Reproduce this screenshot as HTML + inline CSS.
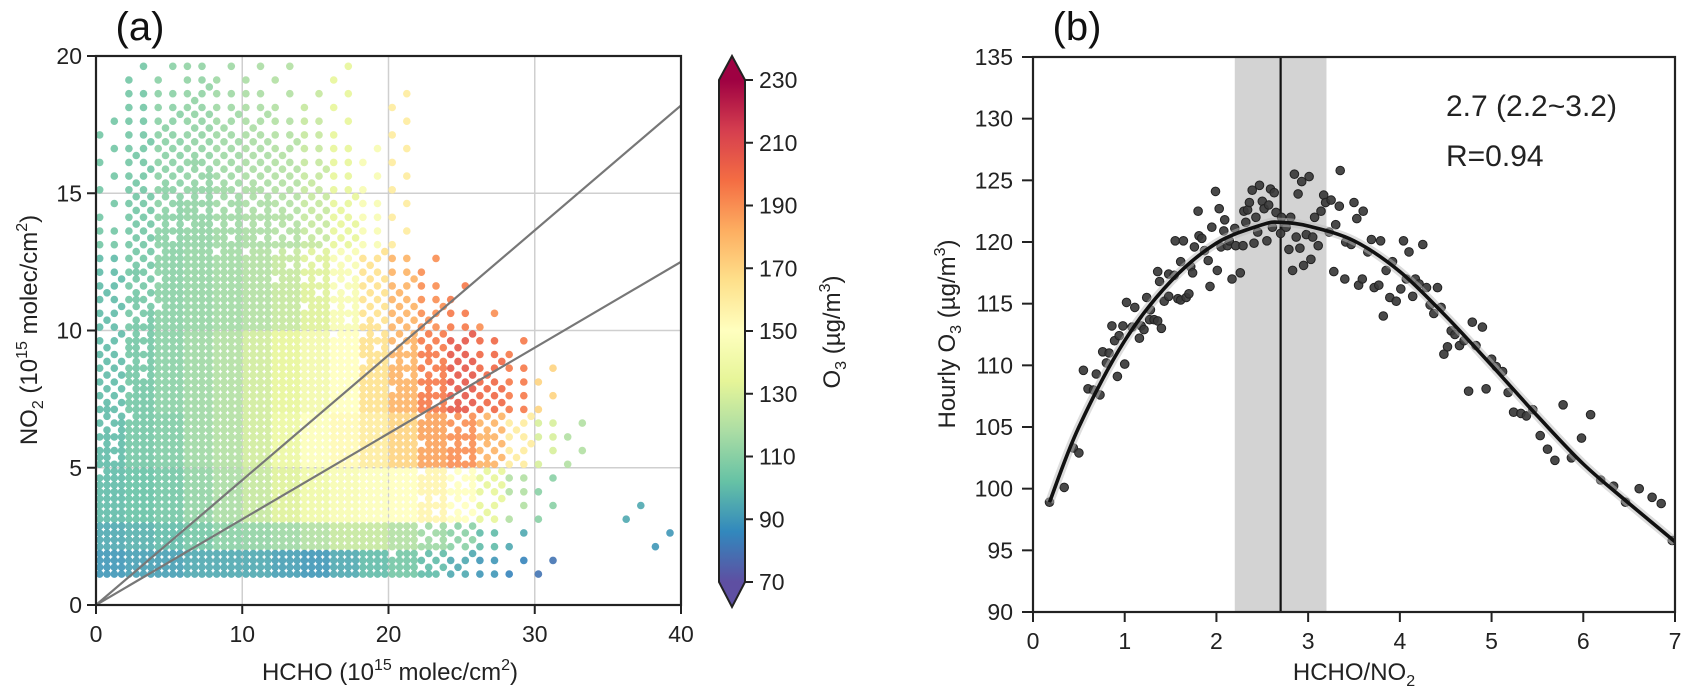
<!DOCTYPE html>
<html><head><meta charset="utf-8"><style>
body{margin:0;background:#fff}
svg{display:block;font-family:"Liberation Sans",Arial,sans-serif}
</style></head><body>
<svg id="fig" width="1688" height="696" viewBox="0 0 1688 696" xmlns="http://www.w3.org/2000/svg">
<defs>
<linearGradient id="cbg" x1="0" y1="1" x2="0" y2="0">
<stop offset="0" stop-color="#5e4fa2"/><stop offset="0.1" stop-color="#3288bd"/><stop offset="0.2" stop-color="#66c2a5"/><stop offset="0.3" stop-color="#abdda4"/><stop offset="0.4" stop-color="#e6f598"/><stop offset="0.5" stop-color="#ffffbf"/><stop offset="0.6" stop-color="#fee08b"/><stop offset="0.7" stop-color="#fdae61"/><stop offset="0.8" stop-color="#f46d43"/><stop offset="0.9" stop-color="#d53e4f"/><stop offset="1" stop-color="#9e0142"/>
</linearGradient>
<clipPath id="clipA"><rect x="96" y="56" width="585" height="549"/></clipPath>
<clipPath id="clipB"><rect x="1033" y="57" width="642" height="555"/></clipPath>
</defs>
<g id="pa"></g>
<g id="pb"></g>
</svg>
<script>
// ---------- Panel (a) data ----------
const aXTicks = [0, 10, 20, 30, 40];
const aYTicks = [0, 5, 10, 15, 20];
const cbTicks = [70, 90, 110, 130, 150, 170, 190, 210, 230];
const lineSlopes = [0.455, 0.3125];
// density (0-9) per cell: rows NO2 19-20 (top) ... 0-1 (bottom); cols HCHO 0-2 ... 38-40
const aDensity = [
"01121110100000000000",
"02232211101000000000",
"12343322101000000000",
"13454432211000000000",
"13565543211000000000",
"14676654321000000000",
"24787765421000000000",
"25898876532100000000",
"35899987643210000000",
"36899998754321000000",
"37999999876532100000",
"47999999987643210000",
"58999999998754210000",
"68999999999865321000",
"79999999999875311000",
"89999999999864210000",
"99999999999753110010",
"99999999999642100001",
"99999999998532110000",
"00000000000000000000"];
// O3 value (ug/m3) per cell, same layout (top row first)
const upper = [105,105,110,112,115,118,120,125,135,145,160,165,165,160,150,140,130,120,110,100];
const midU  = [100,105,110,113,116,120,125,132,145,165,180,190,195,190,180,170,160,150,140,130];
const midL  = [100,105,110,115,120,128,135,142,150,165,180,195,205,200,195,170,160,150,140,130];
const low5  = [100,105,108,115,120,128,138,148,153,160,170,185,190,180,160,130,120,110,100,95];
const low3  = [100,102,105,112,118,125,132,140,145,148,150,155,150,135,120,110,100,90,95,90];
const row2  = [95,97,100,105,110,112,115,120,125,125,120,115,110,100,95,90,85,90,95,90];
const row1  = [90,92,92,95,95,95,92,90,95,100,105,100,95,90,85,80,85,85,85,90];
const aO3 = [upper,upper,upper,upper,upper,upper,upper,midU,midU,midU,midL,midL,midL,low5,low5,low3,low3,row2,row1,row1];

// ---------- Panel (b) data ----------
const bXTicks = [0,1,2,3,4,5,6,7];
const bYTicks = [90,95,100,105,110,115,120,125,130,135];
const ratio = [0.18,0.34,0.44,0.50,0.55,0.60,0.66,0.69,0.73,0.76,0.80,0.83,0.86,0.89,0.92,0.94,0.98,1.0,1.02,1.08,1.11,1.16,1.18,1.21,1.24,1.28,1.27,1.32,1.36,1.40,1.36,1.38,1.43,1.48,1.48,1.54,1.55,1.58,1.61,1.64,1.67,1.70,1.61,1.72,1.74,1.76,1.80,1.81,1.84,1.87,1.91,1.93,1.95,1.99,2.01,2.03,2.05,2.08,2.09,2.12,2.14,2.17,2.2,2.21,2.26,2.29,2.30,2.32,2.34,2.36,2.39,2.41,2.43,2.45,2.47,2.50,2.52,2.55,2.57,2.59,2.61,2.63,2.65,2.70,2.71,2.76,2.79,2.81,2.83,2.85,2.87,2.89,2.91,2.93,2.95,2.98,3.01,3.03,3.05,3.07,3.11,3.14,3.17,3.19,3.23,3.25,3.28,3.30,3.34,3.35,3.40,3.41,3.47,3.50,3.53,3.55,3.59,3.60,3.65,3.69,3.72,3.77,3.79,3.82,3.85,3.89,3.92,3.96,4.01,4.04,4.07,4.10,4.14,4.17,4.21,4.25,4.29,4.33,4.37,4.41,4.45,
4.79,4.90,4.56,4.60,4.52,4.48,4.65,4.70,4.83,5.00,5.05,5.12,4.75,4.94,5.18,5.24,5.32,5.38,5.45,5.78,6.08,5.53,5.61,5.69,5.87,5.98,6.19,6.33,6.46,6.61,6.75,6.85,6.97];
const o3b = [98.9,100.1,103.3,102.9,109.6,108.1,108.0,109.3,107.6,111.1,110.2,111.0,113.2,112.0,109.1,112.4,113.2,110.1,115.1,113.1,114.7,112.2,113.2,112.9,115.5,114.5,113.7,113.7,113.6,113.0,117.6,116.8,115.2,115.6,117.4,117.3,120.1,115.4,115.3,120.1,115.5,115.8,118.4,118.0,117.5,119.6,122.5,120.5,120.3,119.3,118.5,116.4,121.2,124.1,117.7,122.7,119.6,120.9,121.8,119.7,120.1,117.0,121.1,119.7,117.5,119.7,122.5,121.6,122.6,123.2,124.2,119.9,122.0,120.8,124.6,123.3,122.7,120.1,123.0,124.3,121.2,124.0,122.4,120.7,122.0,121.2,119.4,122.0,117.7,125.5,120.4,123.9,119.5,124.9,118.1,120.6,125.3,118.6,120.4,122.0,119.7,122.5,123.8,123.2,120.8,123.4,117.6,121.4,122.9,125.8,117.0,120.0,119.8,123.2,121.9,116.5,117.0,122.5,119.2,120.2,116.3,116.5,120.1,114.0,117.7,115.5,118.4,115.2,116.2,120.1,117.0,119.2,115.6,117.0,116.6,119.8,116.3,114.9,114.2,116.3,114.7,
113.5,113.1,112.8,112.5,111.5,110.9,111.6,112.0,111.6,110.5,109.9,109.5,107.9,108.1,107.8,106.2,106.1,105.9,106.4,106.8,106.0,104.3,103.2,102.3,102.5,104.1,100.7,100.2,98.9,100.0,99.3,98.8,95.8];
const fitX = [0.18,0.5,1,1.5,2,2.5,2.7,3,3.5,4,4.5,5,5.5,6,6.5,7];
const fitY = [98.9,105.0,112.0,116.8,119.9,121.4,121.6,121.3,120.1,117.6,114.0,110.0,105.9,102.0,98.8,95.7];
const optimum = 2.7, bandLo = 2.2, bandHi = 3.2;

// ---------- helpers ----------
const NS = "http://www.w3.org/2000/svg";
function mk(tag, parent, attrs, text){
  const e = document.createElementNS(NS, tag);
  for (const k in attrs) e.setAttribute(k, attrs[k]);
  if (text !== undefined) e.textContent = text;
  parent.appendChild(e); return e;
}
const pa = document.getElementById('pa');
const pb = document.getElementById('pb');

const AX0 = 96, AX1 = 681, AY0 = 605, AY1 = 56;
const ax = v => AX0 + (v - 0) / 40 * (AX1 - AX0);
const ay = v => AY0 - v / 20 * (AY0 - AY1);
const CB0 = 582, CB1 = 80;
const cy = v => CB0 - (v - 70) / 160 * (CB0 - CB1);
const stops = [[70,[94,79,162]],[86,[50,136,189]],[102,[102,194,165]],[118,[171,221,164]],[134,[230,245,152]],[150,[255,255,191]],[166,[254,224,139]],[182,[253,174,97]],[198,[244,109,67]],[214,[213,62,79]],[230,[158,1,66]]];
function cmap(v){
  v = Math.max(70, Math.min(230, v));
  for (let i=0;i<stops.length-1;i++){
    const a=stops[i], b=stops[i+1];
    if (v<=b[0]){ const t=(v-a[0])/(b[0]-a[0]);
      return 'rgb('+a[1].map((c,j)=>Math.round(c+(b[1][j]-c)*t)).join(',')+')'; }
  }
  return 'rgb(158,1,66)';
}

const ga = mk('g', pa, {});


aXTicks.slice(1,-1).forEach(t => mk('line', ga, {x1:ax(t),x2:ax(t),y1:AY1,y2:AY0,stroke:'#cfcfcf','stroke-width':1.5}));
aYTicks.slice(1,-1).forEach(t => mk('line', ga, {x1:AX0,x2:AX1,y1:ay(t),y2:ay(t),stroke:'#cfcfcf','stroke-width':1.5}));

const bayer = [0,8,2,10,12,4,14,6,3,11,1,9,15,7,13,5];
const gd = mk('g', pa, {'clip-path':'url(#clipA)'});


for (let ri=0; ri<aDensity.length; ri++){
  const r = 19 - ri;
  for (let c=0; c<20; c++){
    const d = +aDensity[ri][c];
    if (!d) continue;
    const val = aO3[ri][c];
    for (let m=0;m<4;m++) for (let n=0;n<4;n++){
      if (bayer[m*4+n] >= d/9*16) continue;
      const xv = c*2 + 0.25 + 0.5*n, yv = r + 0.125 + 0.25*m;
      const dot = mk('circle', gd, {cx:ax(xv).toFixed(1), cy:ay(yv).toFixed(1), r:3.8, fill:cmap(val), 'fill-opacity':0.9});
      
      
    }
  }
}
lineSlopes.forEach((s,i) => {
  const l = mk('line', pa, {x1:ax(0),y1:ay(0),x2:ax(40),y2:ay(40*s),stroke:'#777','stroke-width':2.2,'clip-path':'url(#clipA)'});
  
  
});
mk('rect', pa, {x:AX0,y:AY1,width:AX1-AX0,height:AY0-AY1,fill:'none',stroke:'#222','stroke-width':2.2});
aXTicks.forEach(t => {
  mk('line', pa, {x1:ax(t),x2:ax(t),y1:AY0,y2:AY0+9,stroke:'#222','stroke-width':2});
  const tl = mk('text', pa, {x:ax(t),y:AY0+37,'font-size':23,'text-anchor':'middle',fill:'#222'}, t);
  
  
});
aYTicks.forEach(t => {
  mk('line', pa, {x1:AX0-9,x2:AX0,y1:ay(t),y2:ay(t),stroke:'#222','stroke-width':2});
  const tl = mk('text', pa, {x:AX0-14,y:ay(t)+8,'font-size':23,'text-anchor':'end',fill:'#222'}, t);
  
  
});
const gc = mk('g', pa, {});


mk('rect', gc, {x:719,y:CB1,width:26,height:CB0-CB1,fill:'url(#cbg)'});
mk('path', gc, {d:`M719 ${CB1} L732 56 L745 ${CB1} Z`, fill:'#9e0142'});
mk('path', gc, {d:`M719 ${CB0} L732 607 L745 ${CB0} Z`, fill:'#5e4fa2'});
mk('path', gc, {d:`M719 ${CB1} L732 56 L745 ${CB1} L745 ${CB0} L732 607 L719 ${CB0} Z`, fill:'none', stroke:'#222','stroke-width':2});
cbTicks.forEach(t => {
  mk('line', gc, {x1:745,x2:753,y1:cy(t),y2:cy(t),stroke:'#222','stroke-width':2});
  const tl = mk('text', gc, {x:759,y:cy(t)+8,'font-size':23,fill:'#222'}, t);
  
  
});

// ---------- panel (b) ----------
const BX0 = 1033, BX1 = 1675, BY0 = 612, BY1 = 57;
const bx = v => BX0 + v / 7 * (BX1 - BX0);
const by = v => BY0 - (v - 90) / 45 * (BY0 - BY1);
const band = mk('rect', pb, {x:bx(bandLo), y:BY1, width:bx(bandHi)-bx(bandLo), height:BY0-BY1, fill:'#d3d3d3'});


const vl = mk('line', pb, {x1:bx(optimum),x2:bx(optimum),y1:BY1,y2:BY0,stroke:'#111','stroke-width':2.2});


const gp = mk('g', pb, {'clip-path':'url(#clipB)'});


ratio.forEach((x,i) => {
  const p = mk('circle', gp, {cx:bx(x).toFixed(1), cy:by(o3b[i]).toFixed(1), r:4.3, fill:'#3a3a3a', 'fill-opacity':0.92, stroke:'#222','stroke-width':1});
  
  
});
const pts = fitX.map((x,i)=>[bx(x), by(fitY[i])]);
let d = `M${pts[0][0]} ${pts[0][1]}`;
for (let i=0;i<pts.length-1;i++){
  const p0=pts[Math.max(0,i-1)], p1=pts[i], p2=pts[i+1], p3=pts[Math.min(pts.length-1,i+2)];
  const c1=[p1[0]+(p2[0]-p0[0])/6, p1[1]+(p2[1]-p0[1])/6];
  const c2=[p2[0]-(p3[0]-p1[0])/6, p2[1]-(p3[1]-p1[1])/6];
  d += ` C${c1[0].toFixed(1)} ${c1[1].toFixed(1)} ${c2[0].toFixed(1)} ${c2[1].toFixed(1)} ${p2[0].toFixed(1)} ${p2[1].toFixed(1)}`;
}
const ci = mk('path', pb, {d:d, fill:'none', stroke:'#bbb', 'stroke-opacity':0.5, 'stroke-width':9, 'clip-path':'url(#clipB)'});


const fc = mk('path', pb, {d:d, fill:'none', stroke:'#111', 'stroke-width':3.6, 'clip-path':'url(#clipB)'});


mk('rect', pb, {x:BX0,y:BY1,width:BX1-BX0,height:BY0-BY1,fill:'none',stroke:'#222','stroke-width':2.2});
bXTicks.forEach(t => {
  mk('line', pb, {x1:bx(t),x2:bx(t),y1:BY0,y2:BY0+10,stroke:'#222','stroke-width':2});
  const tl = mk('text', pb, {x:bx(t),y:BY0+37,'font-size':23,'text-anchor':'middle',fill:'#222'}, t);
  
  
});
bYTicks.forEach(t => {
  mk('line', pb, {x1:BX0-11,x2:BX0,y1:by(t),y2:by(t),stroke:'#222','stroke-width':2});
  const tl = mk('text', pb, {x:BX0-20,y:by(t)+8,'font-size':23,'text-anchor':'end',fill:'#222'}, t);
  
  
});
</script>
<script>
const fig = document.getElementById('fig');
fig.insertAdjacentHTML('beforeend', `
<text x="140" y="40" font-size="40" text-anchor="middle" fill="#111">(a)</text>
<text x="1077" y="40" font-size="40" text-anchor="middle" fill="#111">(b)</text>
<text x="390" y="680" font-size="24" text-anchor="middle" fill="#222">HCHO (10<tspan font-size="16" dy="-10">15</tspan><tspan dy="10"> molec/cm</tspan><tspan font-size="16" dy="-10">2</tspan><tspan dy="10">)</tspan></text>
<text transform="translate(37,330) rotate(-90)" font-size="24" text-anchor="middle" fill="#222">NO<tspan font-size="16" dy="6">2</tspan><tspan dy="-6"> (10</tspan><tspan font-size="16" dy="-10">15</tspan><tspan dy="10"> molec/cm</tspan><tspan font-size="16" dy="-10">2</tspan><tspan dy="10">)</tspan></text>
<text transform="translate(840,332) rotate(-90)" font-size="24" text-anchor="middle" fill="#222">O<tspan font-size="16" dy="6">3</tspan><tspan dy="-6"> (µg/m</tspan><tspan font-size="16" dy="-10">3</tspan><tspan dy="10">)</tspan></text>
<text x="1354" y="680" font-size="24" text-anchor="middle" fill="#222">HCHO/NO<tspan font-size="16" dy="6">2</tspan></text>
<text transform="translate(955,334) rotate(-90)" font-size="24" text-anchor="middle" fill="#222">Hourly O<tspan font-size="16" dy="6">3</tspan><tspan dy="-6"> (µg/m</tspan><tspan font-size="16" dy="-10">3</tspan><tspan dy="10">)</tspan></text>
<text x="1446" y="116" font-size="30" fill="#222">2.7 (2.2~3.2)</text>
<text x="1446" y="166" font-size="30" fill="#222">R=0.94</text>
`);
</script>
</body></html>
